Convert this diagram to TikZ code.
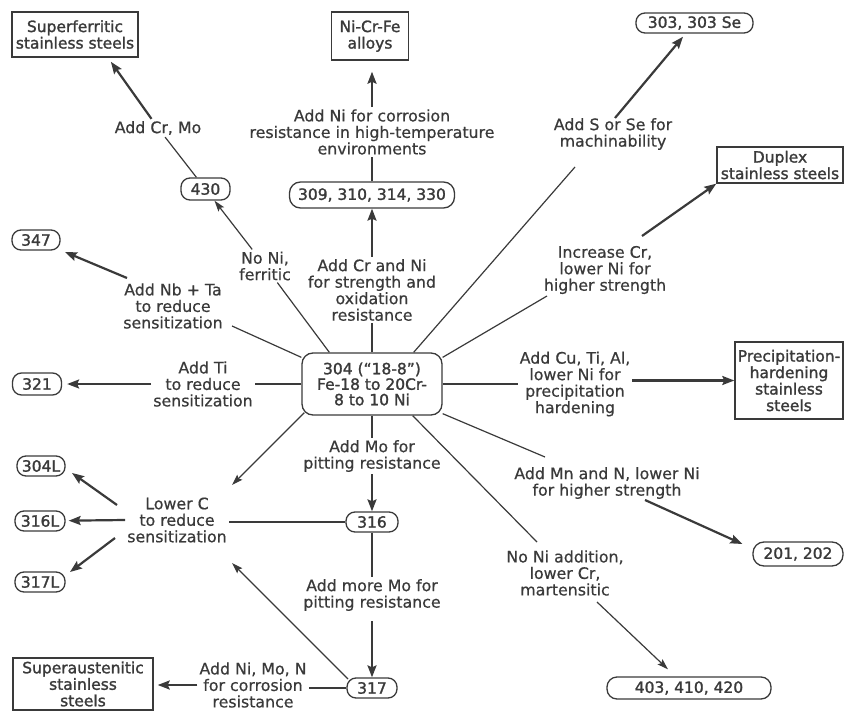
\documentclass[tikz,border=0pt]{standalone}
\usepackage{fontspec}
\setmainfont[FakeBold=0.6]{DejaVu Sans}
\newfontfamily\bxfont[FakeBold=1.5]{DejaVu Sans}
\usetikzlibrary{arrows.meta}
\definecolor{ink}{HTML}{3A3A3A}
\begin{document}
\begin{tikzpicture}[x=1pt,y=-1pt,
  every node/.style={text=ink, font=\fontsize{15.8}{16.5}\selectfont},
  lbl/.style={align=center, inner sep=2pt},
  box/.style={draw=ink, line width=1.4pt, align=center, inner sep=0pt, font=\bxfont\fontsize{15.5}{16.5}\selectfont},
  pill/.style={draw=ink, line width=1.3pt, rounded corners=9pt, inner sep=0pt, font=\bxfont\fontsize{15.5}{16.5}\selectfont},
  ln/.style={draw=ink, line width=1.2pt},
  tarr/.style={ln, -{Stealth[length=11pt,width=7pt,inset=2pt]}},
  karr/.style={draw=ink, line width=2.2pt, -{Stealth[length=12pt,width=9pt,inset=2pt]}},
]
\useasboundingbox (0,0) rectangle (844,712);
% boxes
\node[box, minimum width=126pt, minimum height=45pt] (sf) at (75,34.5) {Superferritic\\stainless steels};
\node[box, minimum width=77pt, minimum height=48pt] (ncf) at (370,36) {Ni-Cr-Fe\\alloys};
\node[box, minimum width=126pt, minimum height=36pt] (dup) at (780,165) {Duplex\\stainless steels};
\node[box, minimum width=108pt, minimum height=77pt] (ph) at (789,380.5) {Precipitation-\\hardening\\stainless\\steels};
\node[box, minimum width=140pt, minimum height=52pt] (sa) at (83,684) {Superaustenitic\\stainless\\steels};
% pills
\node[pill, minimum width=117pt, minimum height=20pt] (r303) at (694.5,23) {303, 303 Se};
\node[pill, minimum width=165pt, minimum height=26pt, rounded corners=11pt] (r309) at (372,195) {309, 310, 314, 330};
\node[pill, minimum width=49pt, minimum height=22pt] (r430) at (205.5,189) {430};
\node[pill, minimum width=48pt, minimum height=20pt] (r347) at (36,240) {347};
\node[pill, minimum width=49pt, minimum height=22pt] (r321) at (37,384) {321};
\node[pill, minimum width=48pt, minimum height=20pt] (r304L) at (41,466) {304L};
\node[pill, minimum width=50pt, minimum height=20pt] (r316L) at (40,521) {316L};
\node[pill, minimum width=50pt, minimum height=20pt] (r317L) at (40,582) {317L};
\node[pill, minimum width=52pt, minimum height=20pt] (r316) at (372,522) {316};
\node[pill, minimum width=50pt, minimum height=20pt] (r317) at (372,688) {317};
\node[pill, minimum width=90pt, minimum height=24pt, rounded corners=11pt] (r201) at (798,554) {201, 202};
\node[pill, minimum width=164pt, minimum height=22pt, rounded corners=10pt] (r403) at (689,688) {403, 410, 420};
\node[pill, minimum width=140pt, minimum height=62pt, rounded corners=11pt, align=center, font=\fontsize{15.5}{15.5}\selectfont\bxfont] (c304) at (372,384) {304 (“18-8”)\\Fe-18 to 20Cr-\\8 to 10 Ni};
% labels
\node[lbl] (lCrMo) at (158,128) {Add Cr, Mo};
\node[lbl] (lNiCorr) at (372,132) {Add Ni for corrosion\\resistance in high-temperature\\environments};
\node[lbl] (lS) at (613,134) {Add S or Se for\\machinability};
\node[lbl] (lInc) at (605,270) {Increase Cr,\\lower Ni for\\higher strength};
\node[lbl] (lCrNi) at (372,290) {Add Cr and Ni\\for strength and\\oxidation\\resistance};
\node[lbl] (lNoNi) at (265,266) {No Ni,\\ferritic};
\node[lbl] (lNb) at (173,306) {Add Nb + Ta\\to reduce\\sensitization};
\node[lbl] (lTi) at (203,384) {Add Ti\\to reduce\\sensitization};
\node[lbl] (lCu) at (575,384) {Add Cu, Ti, Al,\\lower Ni for\\precipitation\\hardening};
\node[lbl] (lMn) at (607,483) {Add Mn and N, lower Ni\\for higher strength};
\node[lbl] (lMart) at (565,573) {No Ni addition,\\lower Cr,\\martensitic};
\node[lbl] (lMo) at (372,456) {Add Mo for\\pitting resistance};
\node[lbl] (lMoreMo) at (372,595) {Add more Mo for\\pitting resistance};
\node[lbl] (lC) at (177,520) {Lower C\\to reduce\\sensitization};
\node[lbl] (lNiMoN) at (253,685) {Add Ni, Mo, N\\for corrosion\\resistance};
% 430 branch
\draw[ln] ([shift={(28,0)}]c304.north west) -- (lNoNi);
\draw[tarr] (lNoNi) -- (r430);
\draw[ln] (r430) -- (lCrMo);
\draw[karr, shorten >=5pt] (lCrMo) -- ([shift={(33,0)}]sf.south);
% 309 branch
\draw[ln] (c304) -- (lCrNi);
\draw[karr] (lCrNi) -- (r309);
\draw[ln, line width=1.8pt] (r309) -- (lNiCorr);
\draw[karr, shorten >=11pt] (lNiCorr) -- (lNiCorr |- ncf.south);
% S branch
\draw[ln] ([shift={(-29,0)}]c304.north east) -- ([shift={(-38,33)}]lS.center);
\draw[karr, shorten >=4pt] ([shift={(2,-16)}]lS.center) -- (r303);
% Increase Cr
\draw[ln] ([shift={(0,5)}]c304.north east) -- ([shift={(-58,26)}]lInc.center);
\draw[karr] ([shift={(37,-34)}]lInc.center) -- (dup.south west);
% Cu
\draw[ln] (c304.east) -- (c304.east -| lCu.west);
\draw[karr] (ph.west -| lCu.east) -- (ph.west);
% Mn
\draw[ln] ([shift={(0,-2)}]c304.south east) -- ([shift={(-62,-26)}]lMn.center);
\draw[karr] ([shift={(38,17)}]lMn.center) -- ([shift={(-10,-10)}]r201.west);
% martensitic
\draw[ln] ([shift={(-30,0)}]c304.south east) -- ([shift={(-28,-31)}]lMart.center);
\draw[tarr] ([shift={(32,29)}]lMart.center) -- ([shift={(-21,-7)}]r403.north);
% Mo
\draw[ln] (c304) -- (lMo);
\draw[karr] (lMo) -- (r316);
\draw[ln] (r316) -- (lMoreMo);
\draw[karr, shorten <=8pt] (lMoreMo) -- (r317);
% Lower C
\draw[ln] (r316.west) -- (r316.west -| lC.east);
\draw[karr] ([shift={(-60,-15)}]lC.center) -- ([shift={(31,7)}]r304L.center);
\draw[karr, shorten >=3pt] (lC.west) -- (r316L);
\draw[karr] ([shift={(-62,18)}]lC.center) -- ([shift={(30,-10)}]r317L.center);
\draw[tarr] ([shift={(3,-3)}]c304.south west) -- ([shift={(55,-35)}]lC.center);
\draw[tarr] ([shift={(-24,-9)}]r317.center) -- ([shift={(55,43)}]lC.center);
% Ni Mo N
\draw[ln] (r317.west) -- (r317.west -| lNiMoN.east);
\draw[karr, shorten >=4pt] (lNiMoN.west) -- (lNiMoN.west -| sa.east);
% Ti
\draw[ln] (c304.west) -- (c304.west -| lTi.east);
\draw[karr, shorten >=5pt] (lTi.west) -- (r321.east);
% Nb
\draw[ln] ([shift={(0,5)}]c304.north west) -- ([shift={(59,20)}]lNb.center);
\draw[karr] ([shift={(-46,-28)}]lNb.center) -- ([shift={(29,12)}]r347.center);
\end{tikzpicture}
\end{document}
